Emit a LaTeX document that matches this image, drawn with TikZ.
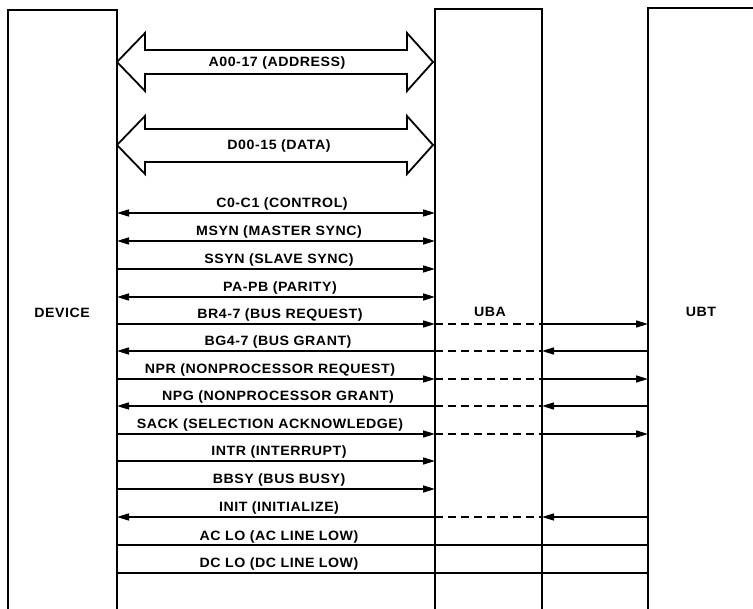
\documentclass[tikz,border=0pt]{standalone}
\usepackage{fontspec}
\newfontfamily\labfont{Liberation Sans}[FakeStretch=1.05,LetterSpace=4]
\usetikzlibrary{arrows.meta}
\tikzset{
  box/.style={line width=2.2pt},
  sig/.style={line width=1.5pt},
  dsh/.style={line width=1.5pt, dash pattern=on 8pt off 5pt},
  fat/.style={line width=1.8pt, line join=miter},
  >={Triangle[length=12pt,width=7pt]},
  lab/.style={font=\labfont\bfseries\fontsize{13.5}{14}\selectfont, anchor=base, inner sep=0pt},
  unit/.style={font=\labfont\bfseries\fontsize{13.5}{14}\selectfont, inner sep=0pt},
}
\begin{document}
\begin{tikzpicture}[x=1pt,y=-1pt]
\useasboundingbox (0,0) rectangle (753,609);
% open boxes
\draw[box] (8,609) -- (8,10) -- (117,10) -- (117,609);
\draw[box] (435,609) -- (435,9) -- (542,9) -- (542,609);
\draw[box] (648,609) -- (648,8) -- (753,8);
\node[unit] (device) at (62,313) {DEVICE};
\node[unit] (uba) at (490,312) {UBA};
\node[unit] (ubt) at (701,312) {UBT};
% fat bus arrows
\coordinate (adrL) at (117,62);
\coordinate (datL) at (117,145);
\draw[fat] (adrL) -- ++(28,-29) -- ++(0,17) -- ++(262,0) -- ++(0,-17) -- ++(26,29)
  -- ++(-26,29) -- ++(0,-17) -- ++(-262,0) -- ++(0,17) -- cycle;
\draw[fat] (datL) -- ++(28,-29) -- ++(0,13) -- ++(262,0) -- ++(0,-13) -- ++(26,29)
  -- ++(-26,29) -- ++(0,-12) -- ++(-262,0) -- ++(0,12) -- cycle;
\node[lab] (adr) at (277,67) {A00-17 (ADDRESS)};
\node[lab] (dat) at (279,150) {D00-15 (DATA)};
% signal rows
\foreach \i/\y/\x/\t in {
  1/213/282/{C0-C1 (CONTROL)},
  2/241/279/{MSYN (MASTER SYNC)},
  3/269/279/{SSYN (SLAVE SYNC)},
  4/297/280/{PA-PB (PARITY)},
  5/324/280/{BR4-7 (BUS REQUEST)},
  6/351/278/{BG4-7 (BUS GRANT)},
  7/379/270/{NPR (NONPROCESSOR REQUEST)},
  8/406/278/{NPG (NONPROCESSOR GRANT)},
  9/434/270/{SACK (SELECTION ACKNOWLEDGE)},
  10/461/279/{INTR (INTERRUPT)},
  11/489/279/{BBSY (BUS BUSY)},
  12/517/279/{INIT (INITIALIZE)},
  13/545/279/{AC LO (AC LINE LOW)},
  14/573/279/{DC LO (DC LINE LOW)}} {
  \coordinate (L\i) at (117,\y);
  \coordinate (A\i) at (435,\y);
  \coordinate (B\i) at (542,\y);
  \coordinate (T\i) at (648,\y);
  \node[lab] (lab\i) at (\x,\y-5) {\t};
}
% both directions
\foreach \i in {1,2,4} \draw[sig,<->] (L\i) -- (A\i);
% device to UBA only
\foreach \i in {3,10,11} \draw[sig,->] (L\i) -- (A\i);
% device to UBT through UBA
\foreach \i in {5,7,9} {
  \draw[sig,->] (L\i) -- (A\i);
  \draw[dsh] (A\i) -- (B\i);
  \draw[sig,->] (B\i) -- (T\i);
}
% UBT to device through UBA
\foreach \i in {6,8,12} {
  \draw[sig,<-] (L\i) -- (A\i);
  \draw[dsh] (A\i) -- (B\i);
  \draw[sig,<-] (B\i) -- (T\i);
}
% plain lines
\foreach \i in {13,14} \draw[sig] (L\i) -- (T\i);
\end{tikzpicture}
\end{document}
